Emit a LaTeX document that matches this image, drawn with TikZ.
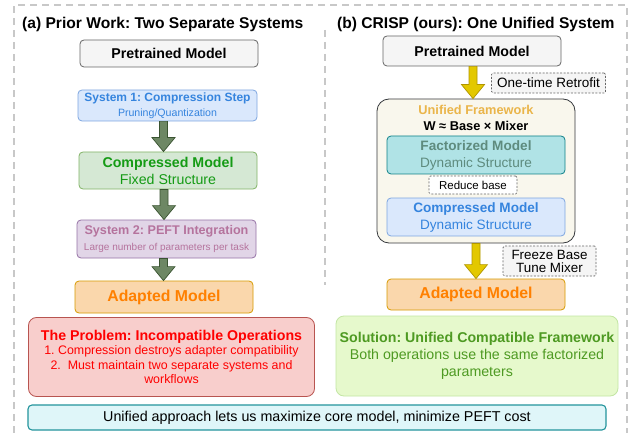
\documentclass[tikz,border=0pt]{standalone}
\usepackage{fontspec}
\setmainfont{Liberation Sans}
\usepackage{tikz}
\usepackage{xcolor}
\usetikzlibrary{calc}
\frenchspacing
\definecolor{cPanel}{HTML}{C8C8C8}
\definecolor{cGrayF}{HTML}{F5F5F5}
\definecolor{cGrayD}{HTML}{666666}
\definecolor{cBlueF}{HTML}{DAE8FC}
\definecolor{cBlueD}{HTML}{7EA6E0}
\definecolor{cBlueT}{HTML}{3584DE}
\definecolor{cGreenF}{HTML}{D5E8D4}
\definecolor{cGreenD}{HTML}{82B366}
\definecolor{cGreenT}{HTML}{159B15}
\definecolor{cPurpF}{HTML}{E1D5E7}
\definecolor{cPurpD}{HTML}{9673A6}
\definecolor{cPurpT}{HTML}{B5739D}
\definecolor{cOrF}{HTML}{FAD7AC}
\definecolor{cOrD}{HTML}{D79B00}
\definecolor{cOrT}{HTML}{FF8000}
\definecolor{cRedF}{HTML}{F8CECC}
\definecolor{cRedD}{HTML}{B85450}
\definecolor{cRedT}{HTML}{FF0000}
\definecolor{cLimeF}{HTML}{E6F9CC}
\definecolor{cLimeD}{HTML}{C3E6A4}
\definecolor{cLimeT}{HTML}{4E9A22}
\definecolor{cCyanF}{HTML}{DFF6F9}
\definecolor{cCyanD}{HTML}{23949C}
\definecolor{cCreamF}{HTML}{F9F7ED}
\definecolor{cCreamD}{HTML}{36393D}
\definecolor{cTealF}{HTML}{B0E3E6}
\definecolor{cTealD}{HTML}{0E8088}
\definecolor{cTealT}{HTML}{5E8B7E}
\definecolor{cGold}{HTML}{EAB54A}
\definecolor{cArrG}{HTML}{6D8764}
\definecolor{cArrGD}{HTML}{3A5431}
\definecolor{cArrY}{HTML}{E3C800}
\definecolor{cArrYD}{HTML}{B09500}
\newcommand{\fsz}[2]{\fontsize{#1pt}{#2pt}\selectfont}
\tikzset{
  panel/.style={draw=cPanel,line width=1.4pt,dash pattern=on 7pt off 5pt},
  box/.style={rounded corners=4pt,line width=.8pt,inner sep=0pt,align=center},
  greybox/.style={box,fill=cGrayF,draw=cGrayD,font=\fsz{14.2}{17}\bfseries},
  bluebox/.style={box,fill=cBlueF,draw=cBlueD,text=cBlueT},
  greenbox/.style={box,fill=cGreenF,draw=cGreenD,text=cGreenT},
  purpbox/.style={box,fill=cPurpF,draw=cPurpD,text=cPurpT},
  orbox/.style={box,fill=cOrF,draw=cOrD,text=cOrT,font=\fsz{15.8}{18}\bfseries},
  tealbox/.style={box,fill=cTealF,draw=cTealD,text=cTealT},
  note/.style={draw=cGrayD,fill=cGrayF,dash pattern=on 2pt off 1.5pt,line width=.7pt,
               rounded corners=1.5pt,inner sep=0pt,align=center},
  fatarrow/.style={to path={let \p1=(\tikztostart),\p2=(\tikztotarget) in
      (\x1-4pt,\y1) -- (\x1-4pt,\y2+14pt) -- (\x1-11.5pt,\y2+14pt) -- (\x1,\y2)
      -- (\x1+11.5pt,\y2+14pt) -- (\x1+4pt,\y2+14pt) -- (\x1+4pt,\y1) -- cycle}},
  greenarrow/.style={fatarrow,fill=cArrG,draw=cArrGD,line width=.7pt},
  yellowarrow/.style={fatarrow,fill=cArrY,draw=cArrYD,line width=.7pt},
}

\begin{document}
\begin{tikzpicture}[x=1pt,y=-1pt]
  \path[use as bounding box,fill=white] (0,0) rectangle (632,433);
  % dashed frame and divider
  \draw[panel] (14,445) -- (14,5) -- (627,5) -- (627,445);
  \draw[panel] (325,30) -- (325,285);

  % (a) two separate systems
  \node[anchor=west,inner sep=0pt,font=\fsz{15.6}{18}\bfseries] (titleA) at (22,24)
    {(a) Prior Work: Two Separate Systems};
  \node[greybox,minimum width=178pt,minimum height=27pt] (preA) at (169,53.5) {Pretrained Model};
  \node[bluebox,minimum width=179pt,minimum height=31pt,font=\fsz{10.6}{15}] (sysone) at (167.5,105.5)
    {{\fsz{12}{15}\bfseries System 1: Compression Step}\\Pruning/Quantization};
  \node[greenbox,minimum width=178pt,minimum height=37pt,font=\fsz{14.2}{17}] (cmpA) at (168,170.5)
    {\textbf{Compressed Model}\\Fixed Structure};
  \node[purpbox,minimum width=179pt,minimum height=38pt,font=\fsz{10}{16}] (systwo) at (166.5,239)
    {{\fsz{12.6}{16}\bfseries System 2: PEFT Integration}\\Large number of parameters per task};
  \node[orbox,minimum width=178pt,minimum height=32pt] (adaA) at (164,297) {Adapted Model};
  \node[box,rounded corners=8pt,fill=cRedF,draw=cRedD,text=cRedT,minimum width=286pt,
        minimum height=79pt,font=\fsz{12.4}{14.6}] (problem) at (171.5,357)
    {{\fsz{14.2}{15}\bfseries The Problem: Incompatible Operations}\\
     1. Compression destroys adapter compatibility\\
     2.\ \ Must maintain two separate systems and\\workflows};
  \draw[greenarrow] ([xshift=-4pt]sysone.south) to ([xshift=-4pt]cmpA.north);
  \draw[greenarrow] ([xshift=-4pt]cmpA.south) to ([xshift=-4pt]systwo.north);
  \draw[greenarrow] ([xshift=-3pt]systwo.south) to ([xshift=-3pt]adaA.north);

  % (b) one unified system
  \node[anchor=west,inner sep=0pt,font=\fsz{15.6}{18}\bfseries] (titleB) at (337,24)
    {(b) CRISP (ours): One Unified System};
  \node[greybox,minimum width=178pt,minimum height=30pt] (preB) at (472,51) {Pretrained Model};
  \node[box,rounded corners=12pt,fill=cCreamF,draw=cCreamD,minimum width=198pt,
        minimum height=144pt] (unif) at (476,171) {};
  \node[inner sep=0pt,align=center,font=\fsz{12.8}{16}\bfseries] (uflabel) at (476,118)
    {\textcolor{cGold}{Unified Framework}\\W ≈ Base × Mixer};
  \node[tealbox,minimum width=178pt,minimum height=38pt,font=\fsz{13.6}{17}] (fact) at (476,155)
    {\textbf{Factorized Model}\\Dynamic Structure};
  \node[note,fill=white,minimum width=88pt,minimum height=18pt,font=\fsz{11.5}{13}] (reduce) at (473,185)
    {Reduce base};
  \node[bluebox,minimum width=178pt,minimum height=38pt,font=\fsz{13.6}{17}] (cmpB) at (476,217)
    {\textbf{Compressed Model}\\Dynamic Structure};
  \node[note,minimum width=114pt,minimum height=20pt,font=\fsz{13.5}{15}] (retro) at (548.5,83)
    {One-time Retrofit};
  \node[note,minimum width=93pt,minimum height=30pt,font=\fsz{13.4}{13}] (freeze) at (549.5,261)
    {Freeze Base\\Tune Mixer};
  \node[orbox,minimum width=178pt,minimum height=31pt] (adaB) at (476,294.5) {Adapted Model};
  \node[box,rounded corners=8pt,fill=cLimeF,draw=cLimeD,text=cLimeT,minimum width=282pt,
        minimum height=80pt,font=\fsz{14.2}{17}] (solution) at (477,356)
    {\textbf{Solution: Unified Compatible Framework}\\
     Both operations use the same factorized\\parameters};
  \draw[yellowarrow] ([xshift=1pt]preB.south) to ([xshift=-2pt]unif.north);
  \draw[yellowarrow] (unif.south) to (adaB.north);

  % shared message
  \node[box,fill=cCyanF,draw=cCyanD,line width=1.1pt,minimum width=578pt,minimum height=25pt,
        font=\fsz{14.3}{17}] (strip) at (317,417.5)
    {Unified approach lets us maximize core model, minimize PEFT cost};
\end{tikzpicture}
\end{document}
